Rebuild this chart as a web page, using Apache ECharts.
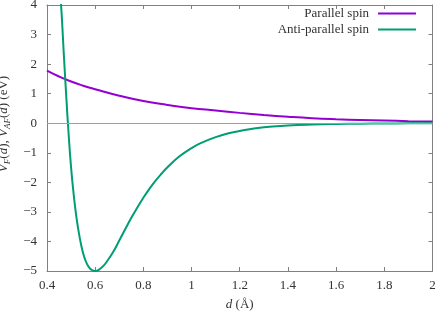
<!DOCTYPE html>
<html><head><meta charset="utf-8">
<script src="https://cdn.jsdelivr.net/npm/echarts@6/dist/echarts.min.js"></script>
<style>html,body{margin:0;padding:0;background:#fff}#c{width:436px;height:314px}</style>
</head><body><div id="c"></div>
<script>
const xTicks = [0.4, 0.6, 0.8, 1, 1.2, 1.4, 1.6, 1.8, 2];
const yTicks = [-5, -4, -3, -2, -1, 0, 1, 2, 3, 4];
const dF = [0.4, 0.45, 0.5, 0.55, 0.6, 0.7, 0.8, 0.9, 1.0, 1.1, 1.2, 1.3, 1.4, 1.5, 1.6, 1.7, 1.8, 1.9, 2.0];
const vF = [1.78, 1.58, 1.41, 1.27, 1.15, 0.93, 0.75, 0.62, 0.51, 0.43, 0.35, 0.28, 0.22, 0.17, 0.135, 0.11, 0.09, 0.07, 0.055];
const dAF = [0.45, 0.455, 0.46, 0.47, 0.48, 0.49, 0.5, 0.51, 0.52, 0.53, 0.54, 0.55, 0.56, 0.57, 0.58, 0.59, 0.6, 0.61, 0.62, 0.635, 0.65, 0.675, 0.7, 0.725, 0.75, 0.775, 0.8, 0.825, 0.85, 0.875, 0.9, 0.95, 1.0, 1.05, 1.1, 1.15, 1.2, 1.3, 1.4, 1.5, 1.6, 1.7, 1.8, 1.9, 2.0];
const vAF = [4.8, 4.3, 3.8, 2.3, 0.9, -0.4, -1.5, -2.35, -3.05, -3.6, -4.05, -4.4, -4.65, -4.82, -4.93, -4.98, -5.0, -4.98, -4.93, -4.82, -4.66, -4.35, -3.97, -3.58, -3.2, -2.85, -2.52, -2.22, -1.95, -1.71, -1.49, -1.12, -0.84, -0.63, -0.47, -0.35, -0.26, -0.14, -0.08, -0.045, -0.025, -0.014, -0.008, -0.004, -0.002];
const names = ['Parallel spin', 'Anti-parallel spin'];
const colors = ['#9400D3', '#009E73'];

const FONT = 'Liberation Serif';
const axisGray = '#808080';
const fmtX = v => String(+(+v).toFixed(1));
const fmtY = v => v < 0 ? '\u2212' + (-v) : String(v);

const chart = echarts.init(document.getElementById('c'), null, {renderer: 'canvas'});
const baseX = {type: 'value', min: 0.4, max: 2, interval: 0.2, splitLine: {show: false},
  axisLine: {show: true, onZero: false, lineStyle: {color: axisGray, width: 1}},
  axisTick: {show: true, inside: true, length: 4, lineStyle: {color: axisGray}}};
const baseY = {type: 'value', min: -5, max: 4, interval: 1, splitLine: {show: false},
  axisLine: {show: true, onZero: false, lineStyle: {color: axisGray, width: 1}},
  axisTick: {show: true, inside: true, length: 4, lineStyle: {color: axisGray}}};
const rich = {
  i: {fontStyle: 'italic', fontFamily: FONT, fontSize: 13, color: '#333', lineHeight: 18},
  s: {fontStyle: 'italic', fontFamily: FONT, fontSize: 9, color: '#333', lineHeight: 18, verticalAlign: 'bottom'},
  n: {fontFamily: FONT, fontSize: 13, color: '#333', lineHeight: 18}
};
chart.setOption({
  animation: false,
  backgroundColor: '#fff',
  grid: {left: 47, right: 3.5, top: 5, bottom: 43, containLabel: false, outerBoundsMode: 'none'},
  xAxis: [
    Object.assign({}, baseX, {position: 'bottom',
      axisLabel: {show: true, margin: 8, formatter: fmtX, fontFamily: FONT, fontSize: 13, color: '#333'},
      name: '{i|d}{n| (\u00C5)}', nameLocation: 'middle', nameGap: 25,
      nameTextStyle: {fontFamily: FONT, fontSize: 13, color: '#333', rich: rich}}),
    Object.assign({}, baseX, {position: 'top', axisLabel: {show: false}})
  ],
  yAxis: [
    Object.assign({}, baseY, {position: 'left',
      axisLabel: {show: true, margin: 10, formatter: fmtY, fontFamily: FONT, fontSize: 13, color: '#333'},
      name: '{i|V}{s|F}{n|(}{i|d}{n|), }{i|V}{s|AF}{n|(}{i|d}{n|) (eV)}', nameLocation: 'middle', nameGap: 29, nameRotate: 90,
      nameTextStyle: {fontFamily: FONT, fontSize: 13, color: '#333', rich: rich, padding: [0, 0, 0, 28]}}),
    Object.assign({}, baseY, {position: 'right', axisLabel: {show: false}})
  ],
  legend: names.map((n, k) => ({
    data: [n], right: 20, top: 7 + 16 * k, align: 'right', orient: 'vertical', padding: 0,
    itemWidth: 38, itemHeight: 2, icon: 'rect', itemGap: 0,
    textStyle: {fontFamily: FONT, fontSize: 13, color: '#333', padding: [0, 4, 0, 0]}
  })),
  series: [
    {name: names[0], type: 'line', xAxisIndex: 0, yAxisIndex: 0, smooth: true, showSymbol: false, clip: true,
     lineStyle: {color: colors[0], width: 2}, itemStyle: {color: colors[0]},
     data: dF.map((d, k) => [d, vF[k]]), z: 3,
     markLine: {silent: true, symbol: 'none', label: {show: false},
       lineStyle: {color: '#a0a0a0', width: 1, type: 'solid'}, data: [{yAxis: 0}]}},
    {name: names[1], type: 'line', xAxisIndex: 0, yAxisIndex: 0, smooth: true, showSymbol: false, clip: true,
     lineStyle: {color: colors[1], width: 2}, itemStyle: {color: colors[1]},
     data: dAF.map((d, k) => [d, vAF[k]]), z: 3}
  ]
});
</script></body></html>
